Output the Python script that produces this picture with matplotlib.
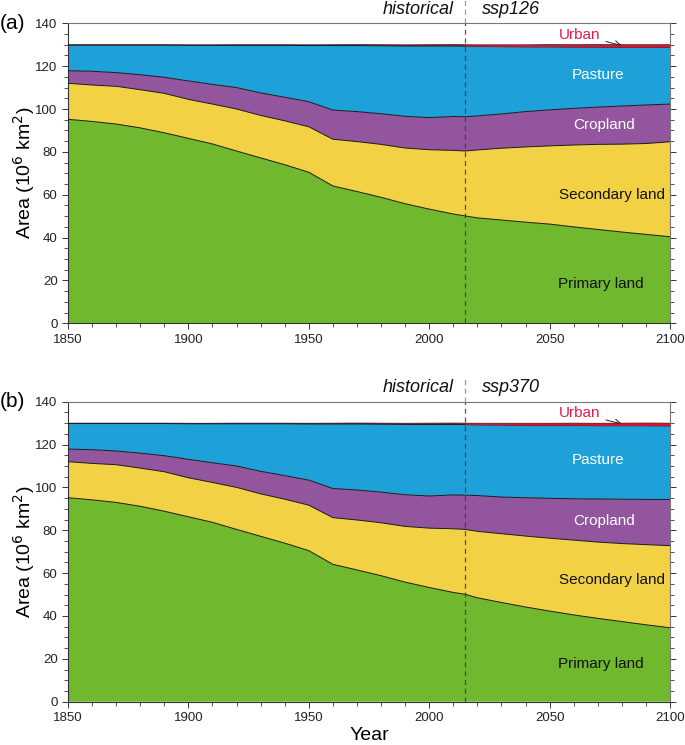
import matplotlib
matplotlib.use("Agg")
import matplotlib.pyplot as plt
import numpy as np
from matplotlib.ticker import MultipleLocator

plt.rcParams['font.family'] = ['Liberation Sans', 'DejaVu Sans']

# ---------------- data (10^6 km2) ----------------
hist_years = [1850, 1860, 1870, 1880, 1890, 1900, 1910, 1920, 1930, 1940,
              1950, 1960, 1970, 1980, 1990, 2000, 2010, 2015]
hist_primary = [95.2, 94.2, 93.0, 91.2, 88.9, 86.3, 83.7, 80.4, 77.2, 74.0,
                70.5, 64.1, 61.5, 58.8, 55.8, 53.3, 51.0, 50.1]
hist_secondary = [16.8, 17.0, 17.6, 17.8, 18.4, 18.2, 18.6, 19.6, 19.8, 20.5,
                  21.2, 21.8, 23.3, 24.7, 26.0, 27.7, 29.7, 30.3]
hist_cropland = [5.9, 6.4, 6.4, 7.0, 7.5, 8.6, 9.2, 10.0, 10.5, 11.0,
                 11.7, 13.6, 14.0, 14.3, 14.8, 15.0, 15.8, 16.0]
hist_pasture = [11.9, 12.2, 12.8, 13.8, 15.0, 16.6, 18.2, 19.7, 22.2, 24.2,
                26.2, 30.1, 30.8, 31.7, 32.8, 33.4, 32.9, 32.9]
hist_urban = [0.2, 0.2, 0.2, 0.2, 0.2, 0.25, 0.25, 0.3, 0.3, 0.3,
              0.35, 0.4, 0.45, 0.5, 0.55, 0.6, 0.65, 0.7]

fut_years = [2020, 2030, 2040, 2050, 2060, 2070, 2080, 2090, 2100]
# ssp126
s126_primary = [49.2, 48.2, 47.2, 46.3, 45.0, 43.8, 42.6, 41.5, 40.4]
s126_secondary = [31.7, 33.5, 35.1, 36.5, 38.2, 39.7, 41.0, 42.4, 44.3]
s126_cropland = [15.9, 16.0, 16.5, 16.8, 17.1, 17.4, 17.8, 18.0, 17.6]
s126_pasture = [32.4, 31.4, 30.2, 29.4, 28.6, 28.0, 27.4, 26.9, 26.5]
s126_urban = [0.75, 0.85, 0.95, 1.05, 1.1, 1.15, 1.2, 1.2, 1.2]
# ssp370
s370_primary = [48.5, 46.3, 44.2, 42.3, 40.5, 38.9, 37.4, 35.9, 34.5]
s370_secondary = [31.0, 32.1, 33.1, 34.0, 34.9, 35.6, 36.4, 37.4, 38.3]
s370_cropland = [16.7, 17.1, 17.9, 18.6, 19.3, 20.1, 20.7, 21.1, 21.6]
s370_pasture = [33.0, 33.6, 33.8, 34.0, 34.2, 34.2, 34.3, 34.4, 34.3]
s370_urban = [0.75, 0.85, 0.95, 1.05, 1.1, 1.15, 1.2, 1.25, 1.3]

categories = ["Primary land", "Secondary land", "Cropland", "Pasture", "Urban"]
colors = ["#70b82e", "#f2d144", "#93559d", "#1ea1d9", "#e0102e"]
split_year = 2015

fig = plt.figure(figsize=(6.85, 7.45), dpi=100)
W, H = 685, 745
axa = fig.add_axes([68 / W, 1 - 323.3 / H, 602 / W, 300 / H])
axb = fig.add_axes([68 / W, 1 - 701.7 / H, 602 / W, 300 / H])

panels = [
    (axa, "(a)", "ssp126", [s126_primary, s126_secondary, s126_cropland, s126_pasture, s126_urban],
     {"Pasture": 115.9, "Cropland": 92.5, "Secondary land": 60.0, "Primary land": 18.3}),
    (axb, "(b)", "ssp370", [s370_primary, s370_secondary, s370_cropland, s370_pasture, s370_urban],
     {"Pasture": 112.8, "Cropland": 84.3, "Secondary land": 56.8, "Primary land": 17.6}),
]

hist_series = [hist_primary, hist_secondary, hist_cropland, hist_pasture, hist_urban]

for ax, tag, scen, fut, lab_y in panels:
    years = np.array(hist_years + fut_years, dtype=float)
    series = [np.array(h + f) for h, f in zip(hist_series, fut)]
    ax.stackplot(years, *series, colors=colors, linewidth=0)
    cum = np.cumsum(np.vstack(series), axis=0)
    for i in range(4):
        ax.plot(years, cum[i], color="#1a1a1a", lw=0.7, zorder=3)
    ax.plot(years, cum[4], color="#1a1a1a", lw=0.5, zorder=3)
    fmask = years >= split_year
    ax.fill_between(years[fmask], cum[3][fmask] + 0.15, cum[4][fmask],
                    color="#e0102e", lw=0, zorder=3.5)

    ax.set_xlim(1850, 2100)
    ax.set_ylim(0, 140)
    ax.xaxis.set_major_locator(MultipleLocator(50))
    ax.xaxis.set_minor_locator(MultipleLocator(10))
    ax.yaxis.set_major_locator(MultipleLocator(20))
    ax.yaxis.set_minor_locator(MultipleLocator(5))
    ax.tick_params(axis="both", which="both", direction="out", labelsize=9.5,
                   colors="#333333", labelcolor="#222222")
    ax.tick_params(axis="y", which="both", right=True, labelright=False)
    ax.tick_params(which="major", length=4, width=0.7)
    ax.tick_params(which="minor", length=3, width=0.6)
    for s in ax.spines.values():
        s.set_color("#777777")
        s.set_linewidth(0.8)
    ax.spines["left"].set_color("#333333")
    ax.spines["bottom"].set_color("#333333")

    ax.set_ylabel("Area (10$^6$ km$^2$)", fontsize=14, labelpad=-1)

    # split line
    ax.plot([split_year, split_year], [0, 140], color="#3a3a3a", lw=0.9,
            ls=(0, (4, 3)), zorder=5, alpha=0.85)
    ax.plot([split_year, split_year], [140, 151], color="#999999", lw=0.9,
            ls=(0, (4, 3)), zorder=5, clip_on=False)

    ax.text(2010, 146.5, "historical", style="italic", fontsize=13,
            ha="right", va="center", color="#111111")
    ax.text(2022, 146.5, scen, style="italic", fontsize=13,
            ha="left", va="center", color="#111111")
    ax.text(-0.113, 1.0, tag, transform=ax.transAxes, fontsize=15,
            ha="left", va="center")

    for name, yv in lab_y.items():
        x_c = {"Pasture": 2070.1, "Cropland": 2072.6,
               "Secondary land": 2075.9, "Primary land": 2071.3}[name]
        col = "white" if name in ("Pasture", "Cropland") else "#111111"
        ax.text(x_c, yv, name, fontsize=11, ha="center", va="center", color=col)

    ax.annotate("Urban", xy=(2080, 129.6), xytext=(2062.5, 134.6),
                fontsize=11, color="#e8194b", ha="center", va="center",
                arrowprops=dict(arrowstyle="->", color="#222222", lw=0.7,
                                shrinkA=2, shrinkB=0))

axb.set_xlabel("Year", fontsize=14, labelpad=2)

fig.savefig("out.png", dpi=100)
